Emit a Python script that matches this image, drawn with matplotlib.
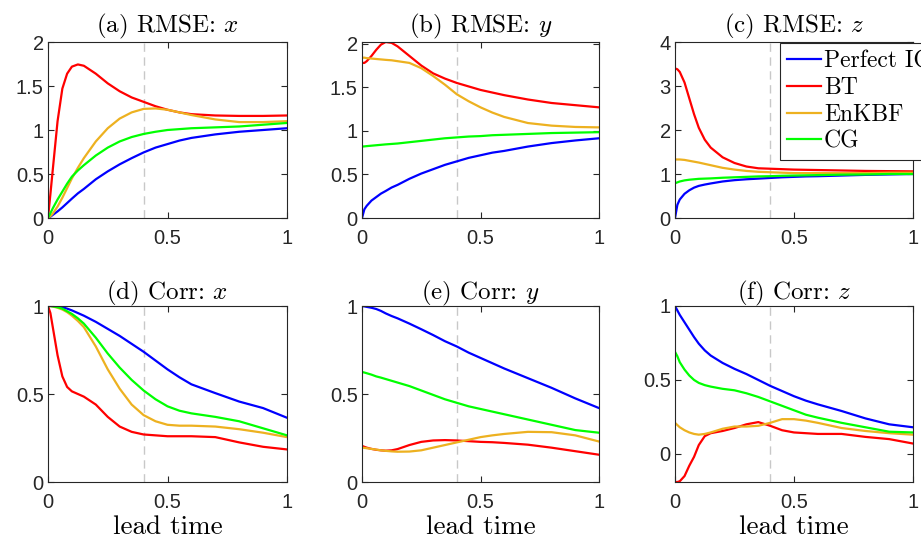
import matplotlib
matplotlib.use("Agg")
import matplotlib.pyplot as plt

plt.rcParams['font.family'] = ['Liberation Sans', 'DejaVu Sans']
plt.rcParams['mathtext.fontset'] = 'cm'
plt.rcParams['axes.unicode_minus'] = False

# lead time grid
t = [0, 0.01, 0.02, 0.04, 0.06, 0.08, 0.1, 0.125, 0.15, 0.2, 0.25, 0.3, 0.35,
     0.4, 0.45, 0.5, 0.55, 0.6, 0.7, 0.8, 0.9, 1.0]

methods = ['Perfect IC', 'BT', 'EnKBF', 'CG']
colors = ['#0000ff', '#ff0000', '#edb120', '#00ff00']

# (a) RMSE x
rmse_x_perfect = [0, 0.015, 0.035, 0.075, 0.12, 0.17, 0.22, 0.28, 0.33, 0.44, 0.53, 0.61, 0.68,
                  0.745, 0.80, 0.84, 0.88, 0.91, 0.95, 0.98, 1.0, 1.02]
rmse_x_bt = [0, 0.27, 0.55, 1.1, 1.47, 1.64, 1.72, 1.745, 1.73, 1.64, 1.53, 1.44, 1.37,
             1.32, 1.27, 1.23, 1.20, 1.18, 1.165, 1.16, 1.16, 1.165]
rmse_x_enkbf = [0, 0.02, 0.05, 0.13, 0.23, 0.34, 0.45, 0.57, 0.68, 0.87, 1.02, 1.13, 1.20,
                1.24, 1.245, 1.23, 1.20, 1.17, 1.12, 1.09, 1.09, 1.10]
rmse_x_cg = [0, 0.055, 0.11, 0.21, 0.30, 0.39, 0.47, 0.54, 0.60, 0.71, 0.80, 0.87, 0.92,
             0.955, 0.98, 1.0, 1.01, 1.02, 1.03, 1.04, 1.06, 1.08]

# (b) RMSE y
rmse_y_perfect = [0, 0.1, 0.14, 0.2, 0.24, 0.28, 0.31, 0.35, 0.38, 0.45, 0.51, 0.56, 0.61,
                  0.65, 0.69, 0.72, 0.75, 0.77, 0.82, 0.86, 0.89, 0.915]
rmse_y_bt = [1.78, 1.78, 1.80, 1.86, 1.93, 1.99, 2.02, 2.01, 1.97, 1.86, 1.75, 1.66, 1.60,
             1.55, 1.51, 1.47, 1.44, 1.41, 1.36, 1.32, 1.295, 1.27]
rmse_y_enkbf = [1.84, 1.84, 1.835, 1.83, 1.825, 1.82, 1.815, 1.81, 1.80, 1.78, 1.72, 1.63, 1.53,
                1.42, 1.34, 1.27, 1.21, 1.16, 1.09, 1.06, 1.045, 1.04]
rmse_y_cg = [0.82, 0.822, 0.825, 0.83, 0.835, 0.84, 0.845, 0.85, 0.855, 0.87, 0.885, 0.90, 0.915,
             0.925, 0.935, 0.94, 0.95, 0.955, 0.965, 0.975, 0.98, 0.985]

# (c) RMSE z
rmse_z_perfect = [0, 0.3, 0.42, 0.55, 0.63, 0.69, 0.73, 0.76, 0.785, 0.83, 0.86, 0.88, 0.895,
                  0.91, 0.925, 0.935, 0.945, 0.95, 0.965, 0.98, 0.99, 1.0]
rmse_z_bt = [3.40, 3.38, 3.32, 3.08, 2.72, 2.36, 2.05, 1.78, 1.6, 1.38, 1.25, 1.17, 1.13,
             1.12, 1.11, 1.10, 1.095, 1.09, 1.08, 1.07, 1.065, 1.06]
rmse_z_enkbf = [1.33, 1.33, 1.33, 1.32, 1.30, 1.28, 1.26, 1.23, 1.20, 1.14, 1.10, 1.07, 1.05,
                1.04, 1.03, 1.02, 1.02, 1.02, 1.02, 1.02, 1.03, 1.03]
rmse_z_cg = [0.79, 0.81, 0.83, 0.855, 0.87, 0.88, 0.89, 0.895, 0.90, 0.915, 0.925, 0.935, 0.945,
             0.95, 0.96, 0.965, 0.97, 0.975, 0.985, 0.99, 1.0, 1.0]

# (d) Corr x
corr_x_perfect = [1.0, 1.0, 1.0, 0.998, 0.993, 0.985, 0.975, 0.96, 0.945, 0.91, 0.87, 0.83, 0.785,
                  0.74, 0.69, 0.64, 0.595, 0.555, 0.505, 0.457, 0.42, 0.365]
corr_x_bt = [1.0, 0.96, 0.88, 0.72, 0.6, 0.54, 0.515, 0.5, 0.485, 0.44, 0.37, 0.315, 0.285,
             0.27, 0.265, 0.26, 0.26, 0.26, 0.255, 0.225, 0.20, 0.185]
corr_x_enkbf = [1.0, 1.0, 0.997, 0.99, 0.98, 0.965, 0.945, 0.915, 0.88, 0.77, 0.64, 0.53, 0.44,
                0.38, 0.345, 0.325, 0.32, 0.32, 0.315, 0.30, 0.28, 0.255]
corr_x_cg = [1.0, 1.0, 0.998, 0.993, 0.985, 0.97, 0.955, 0.93, 0.90, 0.82, 0.73, 0.65, 0.58,
             0.52, 0.47, 0.43, 0.405, 0.39, 0.37, 0.345, 0.305, 0.265]

# (e) Corr y
corr_y_perfect = [1.0, 0.998, 0.995, 0.99, 0.983, 0.972, 0.958, 0.943, 0.93, 0.9, 0.868, 0.835, 0.80,
                  0.77, 0.735, 0.705, 0.675, 0.645, 0.59, 0.535, 0.475, 0.42]
corr_y_bt = [0.205, 0.2, 0.195, 0.188, 0.183, 0.18, 0.178, 0.18, 0.187, 0.21, 0.228, 0.236, 0.238,
             0.236, 0.232, 0.228, 0.226, 0.222, 0.212, 0.195, 0.175, 0.155]
corr_y_enkbf = [0.195, 0.194, 0.192, 0.188, 0.184, 0.18, 0.177, 0.174, 0.172, 0.173, 0.18, 0.195, 0.21,
                0.225, 0.24, 0.255, 0.265, 0.273, 0.285, 0.283, 0.265, 0.23]
corr_y_cg = [0.625, 0.622, 0.618, 0.61, 0.60, 0.593, 0.585, 0.575, 0.565, 0.545, 0.52, 0.495, 0.47,
             0.45, 0.43, 0.415, 0.40, 0.385, 0.355, 0.325, 0.295, 0.28]

# (f) Corr z
corr_z_perfect = [1.0, 0.97, 0.94, 0.89, 0.84, 0.79, 0.745, 0.70, 0.665, 0.615, 0.575, 0.54, 0.50,
                  0.46, 0.425, 0.39, 0.36, 0.335, 0.29, 0.24, 0.20, 0.18]
corr_z_bt = [-0.19, -0.19, -0.185, -0.15, -0.08, -0.02, 0.06, 0.12, 0.14, 0.155, 0.175, 0.2, 0.215,
             0.19, 0.16, 0.145, 0.14, 0.135, 0.135, 0.115, 0.1, 0.07]
corr_z_enkbf = [0.21, 0.195, 0.18, 0.16, 0.145, 0.135, 0.13, 0.135, 0.145, 0.17, 0.185, 0.185, 0.19,
                0.21, 0.235, 0.235, 0.225, 0.21, 0.175, 0.155, 0.14, 0.13]
corr_z_cg = [0.69, 0.66, 0.62, 0.57, 0.53, 0.50, 0.48, 0.465, 0.455, 0.44, 0.43, 0.41, 0.385,
             0.355, 0.325, 0.295, 0.265, 0.245, 0.21, 0.18, 0.15, 0.145]

titles = [r'(a) RMSE: $x$', r'(b) RMSE: $y$', r'(c) RMSE: $z$',
          r'(d) Corr: $x$', r'(e) Corr: $y$', r'(f) Corr: $z$']
panels = [
    [rmse_x_perfect, rmse_x_bt, rmse_x_enkbf, rmse_x_cg],
    [rmse_y_perfect, rmse_y_bt, rmse_y_enkbf, rmse_y_cg],
    [rmse_z_perfect, rmse_z_bt, rmse_z_enkbf, rmse_z_cg],
    [corr_x_perfect, corr_x_bt, corr_x_enkbf, corr_x_cg],
    [corr_y_perfect, corr_y_bt, corr_y_enkbf, corr_y_cg],
    [corr_z_perfect, corr_z_bt, corr_z_enkbf, corr_z_cg],
]
ylims = [(0, 2), (0, 2.02), (0, 4), (0, 1), (0, 1), (-0.19, 1)]
yticks = [[0, 0.5, 1, 1.5, 2], [0, 0.5, 1, 1.5, 2], [0, 1, 2, 3, 4],
          [0, 0.5, 1], [0, 0.5, 1], [0, 0.5, 1]]
ytlabels = [['0', '0.5', '1', '1.5', '2'], ['0', '0.5', '1', '1.5', '2'],
            ['0', '1', '2', '3', '4'], ['0', '0.5', '1'], ['0', '0.5', '1'], ['0', '0.5', '1']]
xticks = [0, 0.5, 1]
xtlabels = ['0', '0.5', '1']
t_split = 0.4

W, H = 921, 542
fig = plt.figure(figsize=(W / 100, H / 100), dpi=100)
lefts = [48, 362, 675]
widths = [239, 237, 238]
tops = [42, 306]
ah = 176

edge = '#262626'
serif = 'cmr10'
for i in range(6):
    r, c = divmod(i, 3)
    ax = fig.add_axes([lefts[c] / W, 1 - (tops[r] + ah) / H, widths[c] / W, ah / H])
    ax.axvline(t_split, color='#c8c8c8', lw=1.0, ls=(0, (6, 4)), zorder=1)
    for k in range(4):
        ax.plot(t, panels[i][k], color=colors[k], lw=1.6, label=methods[k], zorder=2)
    ax.set_xlim(0, 1)
    ax.set_ylim(*ylims[i])
    ax.set_xticks(xticks)
    ax.set_xticklabels(xtlabels)
    ax.set_yticks(yticks[i])
    ax.set_yticklabels(ytlabels[i])
    ax.tick_params(direction='in', top=True, right=True, length=4, width=0.8,
                   labelsize=14.5, colors=edge)
    ax.tick_params(axis='x', pad=8)
    ax.tick_params(axis='y', pad=3)
    for s in ax.spines.values():
        s.set_color(edge)
        s.set_linewidth(0.8)
    ax.set_title(titles[i], fontsize=18, family=serif, pad=7 if r == 0 else 5, color='black')
    if r == 1:
        ax.set_xlabel('lead time', fontsize=19.5, family=serif, labelpad=2, color='black')
    if i == 2:
        leg = ax.legend(loc='upper left', bbox_to_anchor=(0.441, 0.995), borderaxespad=0,
                        prop={'family': serif, 'size': 17},
                        frameon=True, fancybox=False, framealpha=1, edgecolor=edge,
                        handlelength=1.45, handletextpad=0.12, labelspacing=0.2,
                        borderpad=0.3)
        leg.get_frame().set_linewidth(0.8)
        leg.set_zorder(5)

fig.savefig('out.png', dpi=100)
